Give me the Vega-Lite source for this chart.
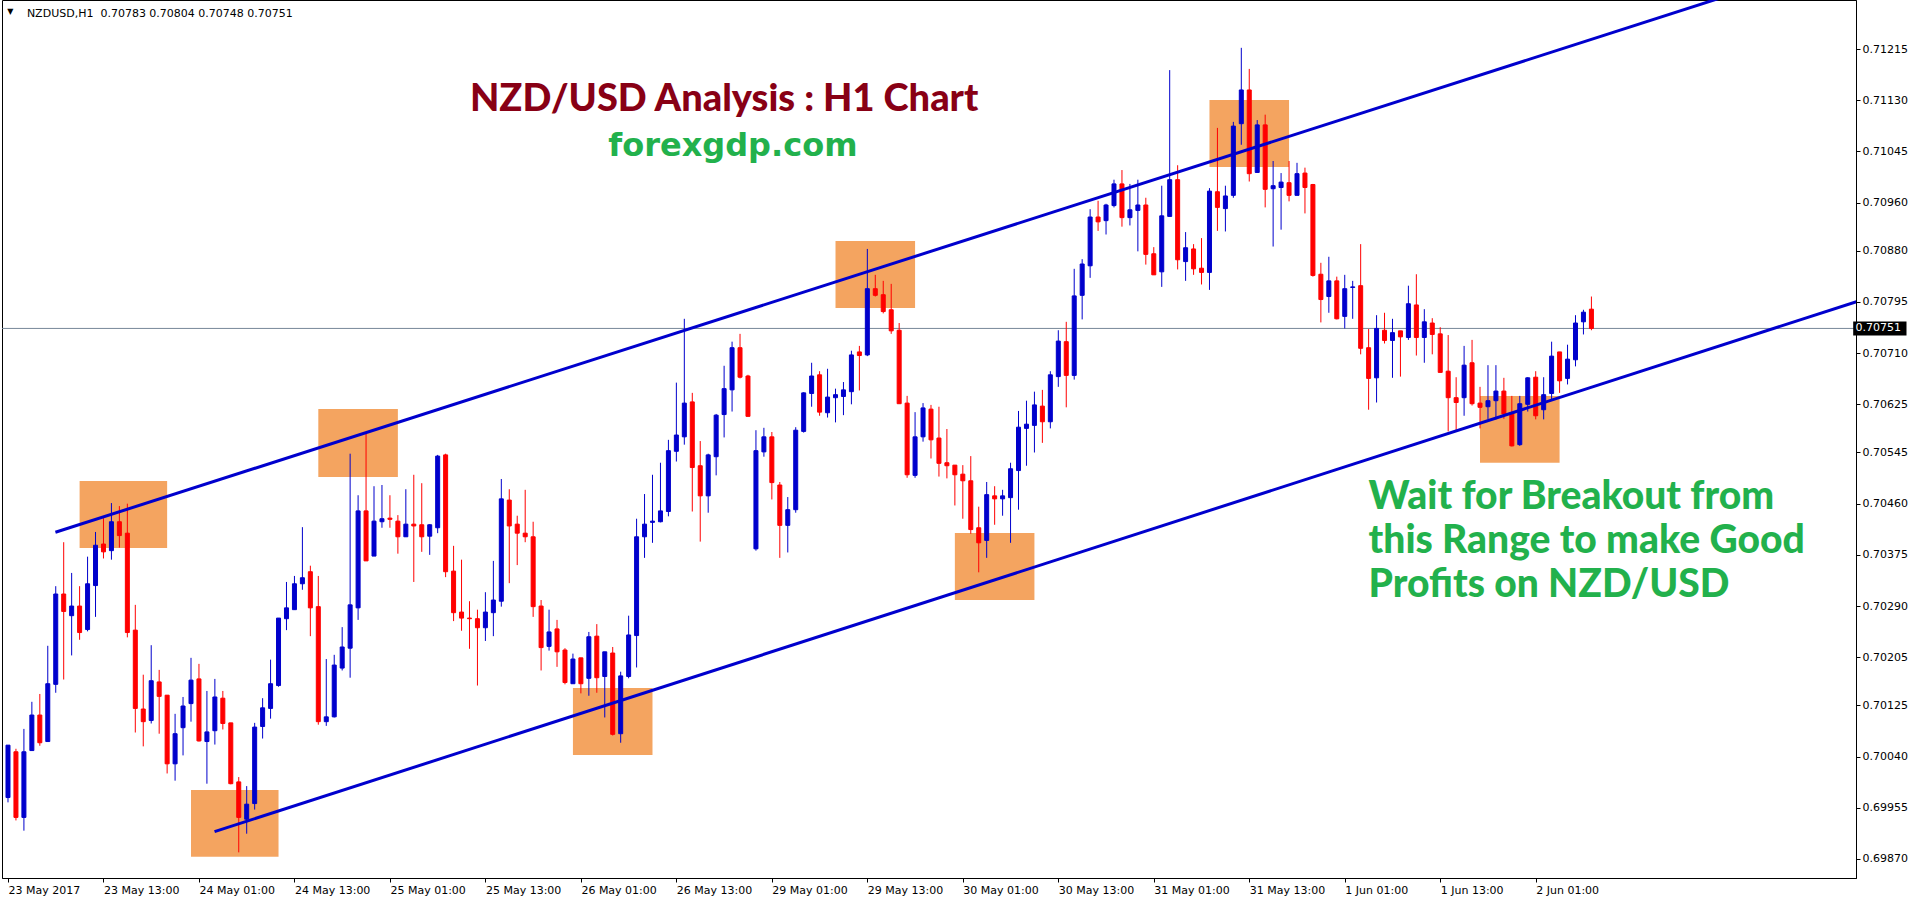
{
  "$schema": "https://vega.github.io/schema/vega-lite/v6.json",
  "autosize": {"type": "none"},
  "width": 1854,
  "height": 878,
  "padding": {"left": 2, "top": 0, "right": 60, "bottom": 24},
  "background": "white",
  "config": {"view": {"stroke": "#000000", "strokeWidth": 1}},
  "datasets": {
    "candles": [
      {"i":0,"o":0.69972,"h":0.70059,"l":0.69964,"c":0.70059},
      {"i":1,"o":0.70048,"h":0.70053,"l":0.69934,"c":0.69939},
      {"i":2,"o":0.69939,"h":0.70086,"l":0.69917,"c":0.70048},
      {"i":3,"o":0.70050,"h":0.70131,"l":0.70050,"c":0.70109},
      {"i":4,"o":0.70109,"h":0.70144,"l":0.70058,"c":0.70063},
      {"i":5,"o":0.70065,"h":0.70224,"l":0.70065,"c":0.70161},
      {"i":6,"o":0.70160,"h":0.70323,"l":0.70146,"c":0.70310},
      {"i":7,"o":0.70310,"h":0.70396,"l":0.70168,"c":0.70281},
      {"i":8,"o":0.70274,"h":0.70345,"l":0.70208,"c":0.70290},
      {"i":9,"o":0.70290,"h":0.70323,"l":0.70234,"c":0.70246},
      {"i":10,"o":0.70251,"h":0.70372,"l":0.70248,"c":0.70327},
      {"i":11,"o":0.70324,"h":0.70413,"l":0.70272,"c":0.70391},
      {"i":12,"o":0.70393,"h":0.70436,"l":0.70369,"c":0.70380},
      {"i":13,"o":0.70382,"h":0.70461,"l":0.70367,"c":0.70430},
      {"i":14,"o":0.70430,"h":0.70456,"l":0.70387,"c":0.70407},
      {"i":15,"o":0.70411,"h":0.70460,"l":0.70238,"c":0.70246},
      {"i":16,"o":0.70250,"h":0.70292,"l":0.70080,"c":0.70120},
      {"i":17,"o":0.70119,"h":0.70176,"l":0.70057,"c":0.70098},
      {"i":18,"o":0.70100,"h":0.70225,"l":0.70095,"c":0.70166},
      {"i":19,"o":0.70164,"h":0.70184,"l":0.70078,"c":0.70140},
      {"i":20,"o":0.70142,"h":0.70142,"l":0.70012,"c":0.70028},
      {"i":21,"o":0.70028,"h":0.70111,"l":0.70000,"c":0.70078},
      {"i":22,"o":0.70088,"h":0.70139,"l":0.70042,"c":0.70124},
      {"i":23,"o":0.70128,"h":0.70204,"l":0.70098,"c":0.70167},
      {"i":24,"o":0.70169,"h":0.70194,"l":0.70065,"c":0.70066},
      {"i":25,"o":0.70065,"h":0.70149,"l":0.69995,"c":0.70081},
      {"i":26,"o":0.70083,"h":0.70169,"l":0.70060,"c":0.70139},
      {"i":27,"o":0.70137,"h":0.70149,"l":0.70085,"c":0.70095},
      {"i":28,"o":0.70096,"h":0.70096,"l":0.69994,"c":0.69995},
      {"i":29,"o":0.69998,"h":0.70006,"l":0.69881,"c":0.69939},
      {"i":30,"o":0.69936,"h":0.69991,"l":0.69912,"c":0.69961},
      {"i":31,"o":0.69962,"h":0.70096,"l":0.69952,"c":0.70089},
      {"i":32,"o":0.70090,"h":0.70137,"l":0.70070,"c":0.70121},
      {"i":33,"o":0.70120,"h":0.70201,"l":0.70103,"c":0.70161},
      {"i":34,"o":0.70158,"h":0.70270,"l":0.70156,"c":0.70270},
      {"i":35,"o":0.70269,"h":0.70330,"l":0.70250,"c":0.70287},
      {"i":36,"o":0.70284,"h":0.70340,"l":0.70284,"c":0.70327},
      {"i":37,"o":0.70327,"h":0.70421,"l":0.70317,"c":0.70337},
      {"i":38,"o":0.70347,"h":0.70357,"l":0.70240,"c":0.70287},
      {"i":39,"o":0.70289,"h":0.70340,"l":0.70093,"c":0.70098},
      {"i":40,"o":0.70098,"h":0.70202,"l":0.70091,"c":0.70106},
      {"i":41,"o":0.70106,"h":0.70209,"l":0.70105,"c":0.70192},
      {"i":42,"o":0.70187,"h":0.70255,"l":0.70183,"c":0.70222},
      {"i":43,"o":0.70220,"h":0.70543,"l":0.70171,"c":0.70292},
      {"i":44,"o":0.70287,"h":0.70474,"l":0.70267,"c":0.70448},
      {"i":45,"o":0.70448,"h":0.70576,"l":0.70365,"c":0.70365},
      {"i":46,"o":0.70373,"h":0.70489,"l":0.70373,"c":0.70431},
      {"i":47,"o":0.70430,"h":0.70491,"l":0.70420,"c":0.70435},
      {"i":48,"o":0.70436,"h":0.70474,"l":0.70420,"c":0.70434},
      {"i":49,"o":0.70431,"h":0.70441,"l":0.70377,"c":0.70405},
      {"i":50,"o":0.70405,"h":0.70484,"l":0.70405,"c":0.70426},
      {"i":51,"o":0.70426,"h":0.70508,"l":0.70330,"c":0.70423},
      {"i":52,"o":0.70425,"h":0.70494,"l":0.70380,"c":0.70405},
      {"i":53,"o":0.70406,"h":0.70426,"l":0.70375,"c":0.70425},
      {"i":54,"o":0.70420,"h":0.70541,"l":0.70411,"c":0.70539},
      {"i":55,"o":0.70541,"h":0.70543,"l":0.70338,"c":0.70347},
      {"i":56,"o":0.70348,"h":0.70390,"l":0.70265,"c":0.70279},
      {"i":57,"o":0.70280,"h":0.70367,"l":0.70249,"c":0.70270},
      {"i":58,"o":0.70270,"h":0.70298,"l":0.70219,"c":0.70269},
      {"i":59,"o":0.70269,"h":0.70284,"l":0.70158,"c":0.70254},
      {"i":60,"o":0.70254,"h":0.70313,"l":0.70232,"c":0.70280},
      {"i":61,"o":0.70279,"h":0.70365,"l":0.70240,"c":0.70300},
      {"i":62,"o":0.70298,"h":0.70501,"l":0.70289,"c":0.70468},
      {"i":63,"o":0.70466,"h":0.70484,"l":0.70328,"c":0.70423},
      {"i":64,"o":0.70426,"h":0.70440,"l":0.70358,"c":0.70411},
      {"i":65,"o":0.70411,"h":0.70483,"l":0.70396,"c":0.70405},
      {"i":66,"o":0.70405,"h":0.70430,"l":0.70272,"c":0.70289},
      {"i":67,"o":0.70290,"h":0.70300,"l":0.70183,"c":0.70221},
      {"i":68,"o":0.70223,"h":0.70284,"l":0.70216,"c":0.70247},
      {"i":69,"o":0.70252,"h":0.70267,"l":0.70189,"c":0.70214},
      {"i":70,"o":0.70217,"h":0.70220,"l":0.70160,"c":0.70163},
      {"i":71,"o":0.70161,"h":0.70211,"l":0.70161,"c":0.70202},
      {"i":72,"o":0.70204,"h":0.70204,"l":0.70145,"c":0.70161},
      {"i":73,"o":0.70170,"h":0.70247,"l":0.70141,"c":0.70239},
      {"i":74,"o":0.70240,"h":0.70260,"l":0.70146,"c":0.70171},
      {"i":75,"o":0.70173,"h":0.70214,"l":0.70105,"c":0.70214},
      {"i":76,"o":0.70212,"h":0.70222,"l":0.70075,"c":0.70077},
      {"i":77,"o":0.70078,"h":0.70181,"l":0.70063,"c":0.70174},
      {"i":78,"o":0.70173,"h":0.70274,"l":0.70170,"c":0.70242},
      {"i":79,"o":0.70241,"h":0.70435,"l":0.70188,"c":0.70405},
      {"i":80,"o":0.70405,"h":0.70476,"l":0.70370,"c":0.70426},
      {"i":81,"o":0.70429,"h":0.70508,"l":0.70395,"c":0.70431},
      {"i":82,"o":0.70430,"h":0.70528,"l":0.70429,"c":0.70448},
      {"i":83,"o":0.70447,"h":0.70566,"l":0.70439,"c":0.70548},
      {"i":84,"o":0.70547,"h":0.70661,"l":0.70530,"c":0.70574},
      {"i":85,"o":0.70571,"h":0.70767,"l":0.70558,"c":0.70627},
      {"i":86,"o":0.70629,"h":0.70644,"l":0.70447,"c":0.70520},
      {"i":87,"o":0.70523,"h":0.70564,"l":0.70397,"c":0.70473},
      {"i":88,"o":0.70473,"h":0.70543,"l":0.70445,"c":0.70541},
      {"i":89,"o":0.70538,"h":0.70609,"l":0.70507,"c":0.70607},
      {"i":90,"o":0.70608,"h":0.70689,"l":0.70570,"c":0.70651},
      {"i":91,"o":0.70649,"h":0.70729,"l":0.70613,"c":0.70719},
      {"i":92,"o":0.70719,"h":0.70742,"l":0.70668,"c":0.70670},
      {"i":93,"o":0.70672,"h":0.70674,"l":0.70605,"c":0.70605},
      {"i":94,"o":0.70385,"h":0.70582,"l":0.70382,"c":0.70548},
      {"i":95,"o":0.70546,"h":0.70586,"l":0.70538,"c":0.70571},
      {"i":96,"o":0.70571,"h":0.70579,"l":0.70467,"c":0.70495},
      {"i":97,"o":0.70491,"h":0.70496,"l":0.70370,"c":0.70424},
      {"i":98,"o":0.70424,"h":0.70471,"l":0.70379,"c":0.70450},
      {"i":99,"o":0.70450,"h":0.70587,"l":0.70445,"c":0.70582},
      {"i":100,"o":0.70580,"h":0.70645,"l":0.70578,"c":0.70644},
      {"i":101,"o":0.70643,"h":0.70694,"l":0.70621,"c":0.70672},
      {"i":102,"o":0.70674,"h":0.70680,"l":0.70606,"c":0.70612},
      {"i":103,"o":0.70611,"h":0.70684,"l":0.70603,"c":0.70637},
      {"i":104,"o":0.70636,"h":0.70651,"l":0.70595,"c":0.70641},
      {"i":105,"o":0.70638,"h":0.70662,"l":0.70607,"c":0.70649},
      {"i":106,"o":0.70646,"h":0.70714,"l":0.70625,"c":0.70707},
      {"i":107,"o":0.70712,"h":0.70722,"l":0.70648,"c":0.70706},
      {"i":108,"o":0.70707,"h":0.70883,"l":0.70705,"c":0.70817},
      {"i":109,"o":0.70817,"h":0.70840,"l":0.70804,"c":0.70806},
      {"i":110,"o":0.70807,"h":0.70830,"l":0.70776,"c":0.70779},
      {"i":111,"o":0.70782,"h":0.70825,"l":0.70742,"c":0.70747},
      {"i":112,"o":0.70748,"h":0.70760,"l":0.70626,"c":0.70626},
      {"i":113,"o":0.70627,"h":0.70639,"l":0.70503,"c":0.70508},
      {"i":114,"o":0.70507,"h":0.70612,"l":0.70503,"c":0.70571},
      {"i":115,"o":0.70571,"h":0.70627,"l":0.70563,"c":0.70619},
      {"i":116,"o":0.70617,"h":0.70624,"l":0.70535,"c":0.70566},
      {"i":117,"o":0.70569,"h":0.70621,"l":0.70505,"c":0.70527},
      {"i":118,"o":0.70528,"h":0.70584,"l":0.70502,"c":0.70523},
      {"i":119,"o":0.70524,"h":0.70524,"l":0.70457,"c":0.70508},
      {"i":120,"o":0.70509,"h":0.70524,"l":0.70435,"c":0.70498},
      {"i":121,"o":0.70498,"h":0.70539,"l":0.70410,"c":0.70417},
      {"i":122,"o":0.70420,"h":0.70455,"l":0.70346,"c":0.70395},
      {"i":123,"o":0.70399,"h":0.70496,"l":0.70370,"c":0.70475},
      {"i":124,"o":0.70473,"h":0.70489,"l":0.70425,"c":0.70468},
      {"i":125,"o":0.70468,"h":0.70483,"l":0.70440,"c":0.70473},
      {"i":126,"o":0.70470,"h":0.70528,"l":0.70395,"c":0.70518},
      {"i":127,"o":0.70515,"h":0.70614,"l":0.70450,"c":0.70587},
      {"i":128,"o":0.70585,"h":0.70631,"l":0.70523,"c":0.70592},
      {"i":129,"o":0.70590,"h":0.70646,"l":0.70545,"c":0.70624},
      {"i":130,"o":0.70622,"h":0.70649,"l":0.70561,"c":0.70596},
      {"i":131,"o":0.70596,"h":0.70680,"l":0.70585,"c":0.70674},
      {"i":132,"o":0.70671,"h":0.70748,"l":0.70654,"c":0.70730},
      {"i":133,"o":0.70729,"h":0.70762,"l":0.70620,"c":0.70673},
      {"i":134,"o":0.70673,"h":0.70850,"l":0.70666,"c":0.70805},
      {"i":135,"o":0.70806,"h":0.70866,"l":0.70766,"c":0.70858},
      {"i":136,"o":0.70855,"h":0.70949,"l":0.70835,"c":0.70936},
      {"i":137,"o":0.70936,"h":0.70963,"l":0.70913,"c":0.70928},
      {"i":138,"o":0.70930,"h":0.70958,"l":0.70907,"c":0.70956},
      {"i":139,"o":0.70955,"h":0.70998,"l":0.70952,"c":0.70991},
      {"i":140,"o":0.70991,"h":0.71014,"l":0.70920,"c":0.70935},
      {"i":141,"o":0.70935,"h":0.70991,"l":0.70922,"c":0.70948},
      {"i":142,"o":0.70947,"h":0.70998,"l":0.70879,"c":0.70956},
      {"i":143,"o":0.70956,"h":0.70968,"l":0.70857,"c":0.70874},
      {"i":144,"o":0.70875,"h":0.70886,"l":0.70840,"c":0.70840},
      {"i":145,"o":0.70845,"h":0.70988,"l":0.70820,"c":0.70938},
      {"i":146,"o":0.70937,"h":0.71180,"l":0.70937,"c":0.70998},
      {"i":147,"o":0.70998,"h":0.71022,"l":0.70849,"c":0.70865},
      {"i":148,"o":0.70862,"h":0.70911,"l":0.70830,"c":0.70885},
      {"i":149,"o":0.70883,"h":0.70891,"l":0.70840,"c":0.70850},
      {"i":150,"o":0.70851,"h":0.70901,"l":0.70824,"c":0.70844},
      {"i":151,"o":0.70844,"h":0.70984,"l":0.70815,"c":0.70979},
      {"i":152,"o":0.70978,"h":0.71084,"l":0.70913,"c":0.70952},
      {"i":153,"o":0.70950,"h":0.70988,"l":0.70912,"c":0.70971},
      {"i":154,"o":0.70972,"h":0.71094,"l":0.70968,"c":0.71087},
      {"i":155,"o":0.71091,"h":0.71217,"l":0.71056,"c":0.71147},
      {"i":156,"o":0.71147,"h":0.71182,"l":0.70995,"c":0.71008},
      {"i":157,"o":0.71010,"h":0.71097,"l":0.71010,"c":0.71089},
      {"i":158,"o":0.71089,"h":0.71106,"l":0.70952,"c":0.70982},
      {"i":159,"o":0.70983,"h":0.71029,"l":0.70887,"c":0.70988},
      {"i":160,"o":0.70985,"h":0.71009,"l":0.70915,"c":0.70994},
      {"i":161,"o":0.70993,"h":0.71029,"l":0.70962,"c":0.70972},
      {"i":162,"o":0.70972,"h":0.71026,"l":0.70972,"c":0.71008},
      {"i":163,"o":0.71009,"h":0.71018,"l":0.70942,"c":0.70985},
      {"i":164,"o":0.70990,"h":0.70991,"l":0.70837,"c":0.70839},
      {"i":165,"o":0.70841,"h":0.70860,"l":0.70761,"c":0.70799},
      {"i":166,"o":0.70804,"h":0.70870,"l":0.70777,"c":0.70830},
      {"i":167,"o":0.70830,"h":0.70837,"l":0.70766,"c":0.70767},
      {"i":168,"o":0.70771,"h":0.70840,"l":0.70751,"c":0.70817},
      {"i":169,"o":0.70819,"h":0.70830,"l":0.70767,"c":0.70820},
      {"i":170,"o":0.70822,"h":0.70891,"l":0.70708,"c":0.70718},
      {"i":171,"o":0.70719,"h":0.70750,"l":0.70616,"c":0.70668},
      {"i":172,"o":0.70669,"h":0.70773,"l":0.70628,"c":0.70751},
      {"i":173,"o":0.70748,"h":0.70777,"l":0.70726,"c":0.70731},
      {"i":174,"o":0.70731,"h":0.70767,"l":0.70669,"c":0.70744},
      {"i":175,"o":0.70747,"h":0.70747,"l":0.70671,"c":0.70737},
      {"i":176,"o":0.70736,"h":0.70822,"l":0.70732,"c":0.70792},
      {"i":177,"o":0.70790,"h":0.70841,"l":0.70706,"c":0.70736},
      {"i":178,"o":0.70736,"h":0.70783,"l":0.70694,"c":0.70762},
      {"i":179,"o":0.70760,"h":0.70768,"l":0.70708,"c":0.70741},
      {"i":180,"o":0.70742,"h":0.70753,"l":0.70678,"c":0.70678},
      {"i":181,"o":0.70680,"h":0.70740,"l":0.70580,"c":0.70636},
      {"i":182,"o":0.70636,"h":0.70670,"l":0.70581,"c":0.70628},
      {"i":183,"o":0.70636,"h":0.70722,"l":0.70606,"c":0.70690},
      {"i":184,"o":0.70694,"h":0.70732,"l":0.70623,"c":0.70626},
      {"i":185,"o":0.70627,"h":0.70654,"l":0.70585,"c":0.70620},
      {"i":186,"o":0.70621,"h":0.70690,"l":0.70600,"c":0.70631},
      {"i":187,"o":0.70631,"h":0.70690,"l":0.70600,"c":0.70647},
      {"i":188,"o":0.70647,"h":0.70669,"l":0.70601,"c":0.70609},
      {"i":189,"o":0.70611,"h":0.70639,"l":0.70555,"c":0.70556},
      {"i":190,"o":0.70558,"h":0.70639,"l":0.70556,"c":0.70626},
      {"i":191,"o":0.70625,"h":0.70670,"l":0.70613,"c":0.70669},
      {"i":192,"o":0.70670,"h":0.70680,"l":0.70600,"c":0.70606},
      {"i":193,"o":0.70616,"h":0.70670,"l":0.70600,"c":0.70641},
      {"i":194,"o":0.70643,"h":0.70729,"l":0.70631,"c":0.70705},
      {"i":195,"o":0.70712,"h":0.70712,"l":0.70644,"c":0.70664},
      {"i":196,"o":0.70668,"h":0.70724,"l":0.70658,"c":0.70700},
      {"i":197,"o":0.70699,"h":0.70773,"l":0.70688,"c":0.70760},
      {"i":198,"o":0.70762,"h":0.70782,"l":0.70741,"c":0.70778},
      {"i":199,"o":0.70783,"h":0.70804,"l":0.70748,"c":0.70751}
    ],
    "boxes": [
      {"x1":9.0,"x2":20.0,"p1":0.704977,"p2":0.703864},
      {"x1":23.0,"x2":34.0,"p1":0.699846,"p2":0.698738},
      {"x1":39.0,"x2":49.0,"p1":0.706173,"p2":0.705043},
      {"x1":71.0,"x2":81.0,"p1":0.701540,"p2":0.700427},
      {"x1":104.0,"x2":114.0,"p1":0.708962,"p2":0.707850},
      {"x1":119.0,"x2":129.0,"p1":0.704114,"p2":0.703001},
      {"x1":151.0,"x2":161.0,"p1":0.711303,"p2":0.710191},
      {"x1":185.0,"x2":195.0,"p1":0.706388,"p2":0.705281}
    ],
    "channel": [
      {"line":"upper","i":5.96,"p":0.704125},
      {"line":"upper","i":220,"p":0.713201},
      {"line":"lower","i":25.96,"p":0.699154},
      {"line":"lower","i":237.1,"p":0.708158}
    ]
  },
  "layer": [
    {
      "data": {"name": "boxes"},
      "mark": {"type": "rect", "color": "#F4A460", "opacity": 1},
      "encoding": {
        "x": {"field": "x1", "type": "quantitative", "title": null,
              "scale": {"domain": [-0.125, 231.625], "nice": false, "zero": false},
              "axis": {"orient": "bottom", "values": [0,12,24,36,48,60,72,84,96,108,120,132,144,156,168,180,192],
                       "labelExpr": "['23 May 2017','23 May 13:00','24 May 01:00','24 May 13:00','25 May 01:00','25 May 13:00','26 May 01:00','26 May 13:00','29 May 01:00','29 May 13:00','30 May 01:00','30 May 13:00','31 May 01:00','31 May 13:00','1 Jun 01:00','1 Jun 13:00','2 Jun 01:00'][round(datum.value/12)]",
                       "labelAlign": "left", "labelBaseline": "top", "labelFont": "DejaVu Sans", "labelFontSize": 11,
                       "labelColor": "#000000", "labelPadding": 2, "labelOverlap": false, "labelFlush": false,
                       "tickSize": 4, "tickColor": "#000000", "domainColor": "#000000", "grid": false, "title": null}},
        "x2": {"field": "x2"},
        "y": {"field": "p1", "type": "quantitative", "title": null,
              "scale": {"domain": [0.698384, 0.712964], "nice": false, "zero": false},
              "axis": {"orient": "right", "values": [0.71215,0.7113,0.71045,0.7096,0.7088,0.70795,0.7071,0.70625,0.70545,0.7046,0.70375,0.7029,0.70205,0.70125,0.7004,0.69955,0.6987],
                       "format": ".5f", "labelFont": "DejaVu Sans", "labelFontSize": 11, "labelColor": "#000000",
                       "labelPadding": 2, "labelOverlap": false, "labelFlush": false, "tickSize": 4, "tickColor": "#000000",
                       "domainColor": "#000000", "grid": false, "title": null}},
        "y2": {"field": "p2"}
      }
    },
    {
      "data": {"values": [{"p": 0.70751}]},
      "mark": {"type": "rule", "color": "#778899", "strokeWidth": 1},
      "encoding": {
        "y": {"field": "p", "type": "quantitative", "title": null}
      }
    },
    {
      "data": {"name": "candles"},
      "mark": {"type": "rule", "strokeWidth": 1},
      "encoding": {
        "x": {"field": "i", "type": "quantitative", "title": null},
        "y": {"field": "h", "type": "quantitative", "title": null},
        "y2": {"field": "l"},
        "color": {"condition": {"test": "datum.c >= datum.o", "value": "#0000CC"}, "value": "#FF0000"}
      }
    },
    {
      "data": {"name": "candles"},
      "mark": {"type": "bar", "orient": "vertical", "size": 4, "strokeWidth": 1},
      "encoding": {
        "x": {"field": "i", "type": "quantitative", "title": null},
        "y": {"field": "o", "type": "quantitative", "title": null},
        "y2": {"field": "c"},
        "color": {"condition": {"test": "datum.c >= datum.o", "value": "#0000CC"}, "value": "#FF0000"},
        "stroke": {"condition": {"test": "datum.c >= datum.o", "value": "#0000CC"}, "value": "#FF0000"}
      }
    },
    {
      "data": {"name": "channel"},
      "mark": {"type": "line", "color": "#0000CD", "strokeWidth": 3, "clip": true},
      "encoding": {
        "x": {"field": "i", "type": "quantitative", "title": null},
        "y": {"field": "p", "type": "quantitative", "title": null},
        "detail": {"field": "line"}
      }
    },
    {
      "data": {"values": [{"i": 90.0, "p": 0.711121, "t": "NZD/USD Analysis : H1 Chart"}]},
      "mark": {"type": "text", "font": "Lato", "fontWeight": 900, "fontSize": 38, "color": "#880015", "align": "center", "baseline": "alphabetic"},
      "encoding": {
        "x": {"field": "i", "type": "quantitative", "title": null},
        "y": {"field": "p", "type": "quantitative", "title": null},
        "text": {"field": "t"}
      }
    },
    {
      "data": {"values": [{"i": 91.1, "p": 0.710374, "t": "forexgdp.com"}]},
      "mark": {"type": "text", "font": "DejaVu Sans", "fontWeight": "bold", "fontSize": 32, "color": "#22B14C", "align": "center", "baseline": "alphabetic"},
      "encoding": {
        "x": {"field": "i", "type": "quantitative", "title": null},
        "y": {"field": "p", "type": "quantitative", "title": null},
        "text": {"field": "t"}
      }
    },
    {
      "data": {"values": [
        {"i": 171.0, "p": 0.704512, "t": "Wait for Breakout from"},
        {"i": 171.0, "p": 0.703786, "t": "this Range to make Good"},
        {"i": 171.0, "p": 0.703056, "t": "Profits on NZD/USD"}
      ]},
      "mark": {"type": "text", "font": "Lato", "fontWeight": 900, "fontSize": 39, "color": "#22B14C", "align": "left", "baseline": "alphabetic"},
      "encoding": {
        "x": {"field": "i", "type": "quantitative", "title": null},
        "y": {"field": "p", "type": "quantitative", "title": null},
        "text": {"field": "t"}
      }
    },
    {
      "data": {"values": [{"i": 2.375, "p": 0.712682, "t": "NZDUSD,H1 \u00a00.70783 0.70804 0.70748 0.70751"}]},
      "mark": {"type": "text", "font": "DejaVu Sans", "fontSize": 11, "color": "#000000", "align": "left", "baseline": "alphabetic"},
      "encoding": {
        "x": {"field": "i", "type": "quantitative", "title": null},
        "y": {"field": "p", "type": "quantitative", "title": null},
        "text": {"field": "t"}
      }
    },
    {
      "data": {"values": [{"i": 0.3, "p": 0.712765, "t": "▼"}]},
      "mark": {"type": "text", "font": "DejaVu Sans", "fontSize": 8, "color": "#000000", "align": "center", "baseline": "middle"},
      "encoding": {
        "x": {"field": "i", "type": "quantitative", "title": null},
        "y": {"field": "p", "type": "quantitative", "title": null},
        "text": {"field": "t"}
      }
    },
    {
      "data": {"values": [{"x1": 231.9, "x2": 238.6, "p1": 0.707626, "p2": 0.707394}]},
      "mark": {"type": "rect", "color": "#000000"},
      "encoding": {
        "x": {"field": "x1", "type": "quantitative", "title": null},
        "x2": {"field": "x2"},
        "y": {"field": "p1", "type": "quantitative", "title": null},
        "y2": {"field": "p2"}
      }
    },
    {
      "data": {"values": [{"i": 232.2, "p": 0.70751, "t": "0.70751"}]},
      "mark": {"type": "text", "font": "DejaVu Sans", "fontSize": 11, "color": "#FFFFFF", "align": "left", "baseline": "middle"},
      "encoding": {
        "x": {"field": "i", "type": "quantitative", "title": null},
        "y": {"field": "p", "type": "quantitative", "title": null},
        "text": {"field": "t"}
      }
    }
  ]
}
